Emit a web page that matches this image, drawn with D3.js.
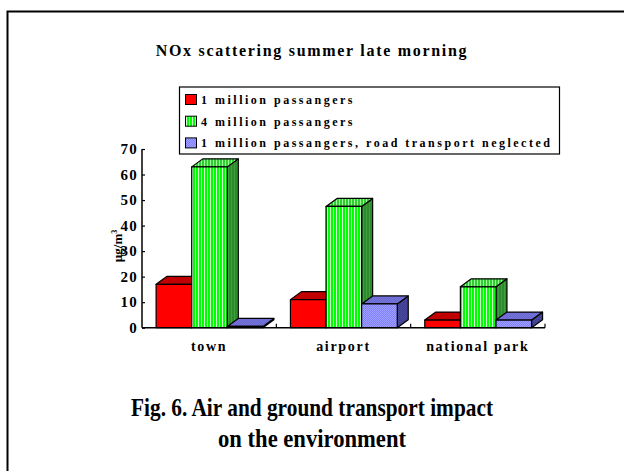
<!DOCTYPE html>
<html><head><meta charset="utf-8">
<script src="https://cdn.jsdelivr.net/npm/d3@7"></script>
<style>body{margin:0;background:#fff}svg{display:block}</style>
</head><body>
<svg id="c" width="624" height="471"></svg>
<script>
const categories = ["town", "airport", "national park"];
const seriesNames = ["1 million passangers", "4 million passangers", "1 million passangers, road transport neglected"];
const series1 = [17, 11, 3];
const series2 = [63, 47.5, 16];
const series3 = [0.5, 9.3, 3];
const yTicks = [0, 10, 20, 30, 40, 50, 60, 70];
const chartTitle = "NOx scattering summer late morning";
const captionLines = ["Fig. 6. Air and ground transport impact", "on the environment"];

const svg = d3.select("#c");
const defs = svg.append("defs");
function stripes(id, bg, fg){
  const p = defs.append("pattern").attr("id", id).attr("width", 3).attr("height", 3).attr("patternUnits", "userSpaceOnUse");
  p.append("rect").attr("width", 3).attr("height", 3).attr("fill", bg);
  p.append("rect").attr("width", 1).attr("height", 3).attr("fill", fg);
}
function checks(id, bg, fg){
  const p = defs.append("pattern").attr("id", id).attr("width", 2).attr("height", 2).attr("patternUnits", "userSpaceOnUse");
  p.append("rect").attr("width", 2).attr("height", 2).attr("fill", bg);
  p.append("rect").attr("width", 1).attr("height", 1).attr("fill", fg);
  p.append("rect").attr("x", 1).attr("y", 1).attr("width", 1).attr("height", 1).attr("fill", fg);
}
stripes("gFront", "#00ff00", "#ccffcc");
stripes("gTop", "#33cc33", "#99ff99");
stripes("gSide", "#2d8a2d", "#3fa03f");
checks("bFront", "#8080ff", "#a0a0ff");
checks("bTop", "#6666cc", "#7777dd");
checks("bSide", "#3c3c8c", "#4a4aa0");

const styles = [
  {front: "#ff0000", top: "#c00000", side: "#990000", legend: "#ff0000"},
  {front: "url(#gFront)", top: "url(#gTop)", side: "url(#gSide)", legend: "url(#gFront)"},
  {front: "url(#bFront)", top: "url(#bTop)", side: "url(#bSide)", legend: "url(#bFront)"}
];

// frame
svg.append("path").attr("d", "M7.5,471 L7.5,11.5 L624,11.5").attr("fill", "none").attr("stroke", "#000").attr("stroke-width", 2);

const serif = "'Liberation Serif','Times New Roman',serif";

svg.append("text").attr("x", 312).attr("y", 56).attr("text-anchor", "middle")
  .attr("font-family", serif).attr("font-weight", "bold").attr("font-size", 16).attr("letter-spacing", 1.7)
  .text(chartTitle);

const x = d3.scaleBand().domain(categories).range([142, 545]).padding(0);
const xs = d3.scaleBand().domain(d3.range(3)).range([x.bandwidth() * 0.105, x.bandwidth() * 0.9]).padding(0);
const y = d3.scaleLinear().domain([0, 70]).range([327.7, 149]);
const dx = 11, dy = -8;

const data = [series1, series2, series3];
const g = svg.append("g");
categories.forEach((c, ci) => {
  for (let s = 0; s < 3; s++) {
    const v = data[s][ci];
    const x0 = x(c) + xs(s), x1 = x0 + xs.bandwidth();
    const yt = y(v), yb = y(0);
    const st = styles[s];
    const bg = g.append("g").attr("stroke", "#000").attr("stroke-width", 1.2).attr("stroke-linejoin", "round");
    bg.append("path").attr("d", `M${x1},${yb}L${x1+dx},${yb+dy}L${x1+dx},${yt+dy}L${x1},${yt}Z`).attr("fill", st.side);
    bg.append("path").attr("d", `M${x0},${yt}L${x0+dx},${yt+dy}L${x1+dx},${yt+dy}L${x1},${yt}Z`).attr("fill", st.top);
    bg.append("rect").attr("x", x0).attr("y", yt).attr("width", x1 - x0).attr("height", yb - yt).attr("fill", st.front);
  }
});

// axes
const yAxis = svg.append("g").attr("transform", "translate(142,0)")
  .call(d3.axisRight(y).tickValues(yTicks).tickSize(3).tickFormat(""));
yAxis.select(".domain").attr("stroke-width", 1.5).attr("d", `M0,${y(70)}V${y(0)}`);
yAxis.selectAll(".tick line").attr("stroke-width", 1.2);
svg.append("g").selectAll("text").data(yTicks).join("text")
  .attr("x", 138).attr("y", d => y(d) + 5).attr("text-anchor", "end")
  .attr("font-family", serif).attr("font-weight", "bold").attr("font-size", 15).attr("letter-spacing", 1.2)
  .text(d => d);

const xAxis = svg.append("g").attr("transform", `translate(0,${y(0)})`)
  .call(d3.axisTop(x).tickSize(0).tickFormat(""));
xAxis.select(".domain").attr("stroke-width", 1.5).attr("d", "M142,0H545");
xAxis.selectAll(".tick").remove();
svg.append("g").selectAll("line").data(categories).join("line")
  .attr("x1", d => x(d) + x.bandwidth()).attr("x2", d => x(d) + x.bandwidth())
  .attr("y1", y(0)).attr("y2", y(0) - 4).attr("stroke", "#000").attr("stroke-width", 1.2);
svg.append("g").selectAll("text").data(categories).join("text")
  .attr("x", d => x(d) + x.bandwidth() / 2).attr("y", 351).attr("text-anchor", "middle")
  .attr("font-family", serif).attr("font-weight", "bold").attr("font-size", 14).attr("letter-spacing", 1.7)
  .text(d => d);

// y label
const yl = svg.append("text").attr("transform", "translate(122,246) rotate(-90)").attr("text-anchor", "middle")
  .attr("font-family", serif).attr("font-weight", "bold").attr("font-size", 13);
yl.append("tspan").text("µg/m");
yl.append("tspan").attr("font-size", 8).attr("dy", -5).text("3");

// legend
const lg = svg.append("g");
lg.append("rect").attr("x", 179.5).attr("y", 87).attr("width", 380).attr("height", 67).attr("fill", "#fff").attr("stroke", "#000").attr("stroke-width", 1.2);
seriesNames.forEach((n, i) => {
  const yy = 94.5 + i * 21.7;
  lg.append("rect").attr("x", 185.5).attr("y", yy).attr("width", 11).attr("height", 10).attr("fill", styles[i].legend).attr("stroke", "#000").attr("stroke-width", 1);
  lg.append("text").attr("x", 201).attr("y", yy + 9.5)
    .attr("font-family", serif).attr("font-weight", "bold").attr("font-size", 12).attr("letter-spacing", 2.5)
    .text(n);
});

// caption
const capWidths = [362, 188];
svg.append("g").selectAll("text").data(captionLines).join("text")
  .attr("x", 312).attr("y", (d, i) => 416 + i * 31).attr("text-anchor", "middle")
  .attr("font-family", serif).attr("font-weight", "bold").attr("font-size", 26)
  .attr("textLength", (d, i) => capWidths[i]).attr("lengthAdjust", "spacingAndGlyphs")
  .text(d => d);
</script>
</body></html>
